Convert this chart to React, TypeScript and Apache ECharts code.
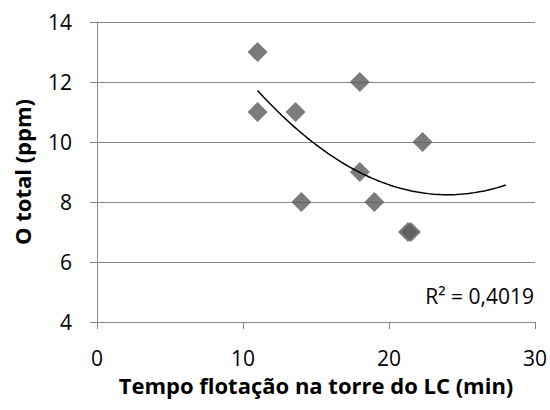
import React, { useEffect, useRef } from "react";
import * as echarts from "echarts";

// Flotation time in the LC tower (min) and total oxygen (ppm)
const tempo: number[] = [11, 11, 13.6, 14, 18, 18, 19, 21.3, 21.5, 22.3];
const oTotal: number[] = [13, 11, 11, 8, 12, 9, 8, 7, 7, 10];

const xTicks = { min: 0, max: 30, interval: 10 };
const yTicks = { min: 4, max: 14, interval: 2 };

// Trendline extends forward from the first sample to this time
const trendEnd = 28;
const r2Label = "R² = 0,4019";

const FONT = "'Open Sans', Lato, sans-serif";
const AXIS_GRAY = "#868686";

// Least-squares fit y = a + b x + c x^2
function quadFit(xs: number[], ys: number[]): [number, number, number] {
  const n = xs.length;
  let s1 = 0, s2 = 0, s3 = 0, s4 = 0, t0 = 0, t1 = 0, t2 = 0;
  for (let i = 0; i < n; i++) {
    const x = xs[i], y = ys[i];
    s1 += x; s2 += x * x; s3 += x * x * x; s4 += x * x * x * x;
    t0 += y; t1 += x * y; t2 += x * x * y;
  }
  const m = [
    [n, s1, s2, t0],
    [s1, s2, s3, t1],
    [s2, s3, s4, t2],
  ];
  for (let i = 0; i < 3; i++) {
    for (let k = i + 1; k < 3; k++) {
      const f = m[k][i] / m[i][i];
      for (let j = i; j < 4; j++) m[k][j] -= f * m[i][j];
    }
  }
  const r = [0, 0, 0];
  for (let i = 2; i >= 0; i--) {
    let s = m[i][3];
    for (let j = i + 1; j < 3; j++) s -= m[i][j] * r[j];
    r[i] = s / m[i][i];
  }
  return [r[0], r[1], r[2]];
}

export default function App() {
  const ref = useRef<HTMLDivElement>(null);

  useEffect(() => {
    if (!ref.current) return;
    const chart = echarts.init(ref.current, undefined, { renderer: "svg" });

    const [a, b, c] = quadFit(tempo, oTotal);
    const start = Math.min(...tempo);
    const steps = 80;
    const trend: number[][] = [];
    for (let i = 0; i <= steps; i++) {
      const x = start + ((trendEnd - start) * i) / steps;
      trend.push([x, a + b * x + c * x * x]);
    }

    const axisLabel = { color: "#000", fontFamily: FONT, fontSize: 21 };
    const nameStyle = { color: "#000", fontFamily: FONT, fontSize: 22, fontWeight: "bold" as const };

    chart.setOption({
      animation: false,
      backgroundColor: "#fff",
      grid: { left: 97, top: 22, width: 440, height: 300, containLabel: false },
      xAxis: {
        type: "value",
        ...xTicks,
        name: "Tempo flotação na torre do LC (min)",
        nameLocation: "middle",
        nameGap: 52,
        nameTextStyle: nameStyle,
        axisLine: { show: true, lineStyle: { color: AXIS_GRAY, width: 1 } },
        axisTick: { show: true, length: 7, lineStyle: { color: AXIS_GRAY } },
        axisLabel: { ...axisLabel, margin: 25 },
        splitLine: { show: false },
      },
      yAxis: {
        type: "value",
        ...yTicks,
        name: "O total (ppm)",
        nameLocation: "middle",
        nameGap: 64,
        nameTextStyle: nameStyle,
        axisLine: { show: true, lineStyle: { color: AXIS_GRAY, width: 1 } },
        axisTick: { show: true, length: 7, lineStyle: { color: AXIS_GRAY } },
        axisLabel: { ...axisLabel, margin: 25 },
        splitLine: { show: true, lineStyle: { color: AXIS_GRAY, width: 1 } },
      },
      series: [
        {
          type: "scatter",
          data: tempo.map((x, i) => [x, oTotal[i]]),
          symbol: "diamond",
          symbolSize: 20,
          itemStyle: { color: "#5a5a5a" },
          z: 2,
        },
        {
          type: "line",
          data: trend,
          showSymbol: false,
          smooth: false,
          lineStyle: { color: "#000", width: 1.5 },
          z: 3,
        },
      ],
      graphic: [
        {
          type: "text",
          right: 16,
          top: 285,
          style: { text: r2Label, fill: "#000", font: `21px ${FONT}` },
        },
      ],
    });

    return () => chart.dispose();
  }, []);

  return (
    <div
      ref={ref}
      style={{ position: "fixed", left: 0, top: 0, width: 550, height: 410 }}
    />
  );
}
